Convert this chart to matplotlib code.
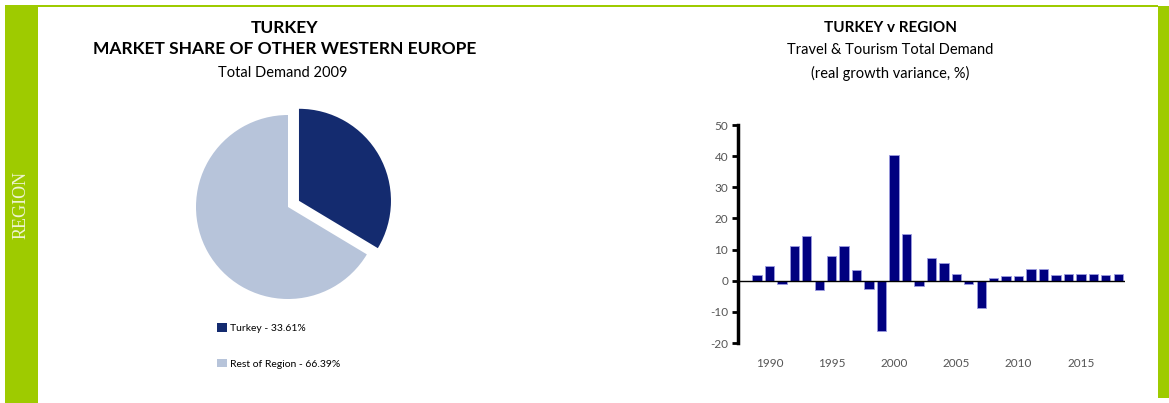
import matplotlib
matplotlib.use("Agg")
import matplotlib.pyplot as plt
from matplotlib.patches import Rectangle, Patch

plt.rcParams["axes.unicode_minus"] = False

# ---- data ----
share_labels = ["Turkey", "Rest of Region"]
share_values = [33.61, 66.39]
share_colors = ["#142b6f", "#b7c4da"]

years = list(range(1989, 2019))
growth_variance = [1.9, 4.7, -1.1, 11.2, 14.3, -2.9, 8.0, 11.2, 3.4, -2.7,
                   -16.2, 40.3, 14.9, -1.7, 7.4, 5.7, 2.0, -1.1, -8.7, 0.9,
                   1.6, 1.6, 3.7, 3.7, 1.9, 2.2, 2.2, 2.1, 1.9, 2.1]
year_ticks = [1990, 1995, 2000, 2005, 2010, 2015]
y_ticks = [-20, -10, 0, 10, 20, 30, 40, 50]

W, H = 1169, 403
GREEN = "#9ecb00"
SANS = ["Lato", "DejaVu Sans"]

fig = plt.figure(figsize=(W / 100, H / 100), dpi=100)
fig.patch.set_facecolor("white")


def px_rect(x0, y0, x1, y1):
    """Figure-fraction [left, bottom, width, height] from pixel box (top-left origin)."""
    return [x0 / W, 1 - y1 / H, (x1 - x0) / W, (y1 - y0) / H]


def add_band(x0, y0, x1, y1):
    l, b, w, h = px_rect(x0, y0, x1, y1)
    fig.add_artist(Rectangle((l, b), w, h, transform=fig.transFigure,
                             facecolor=GREEN, edgecolor="none", zorder=0))


# page frame
add_band(5, 5, 38, 403)
add_band(5, 5, 1158, 7)
add_band(1158, 5.5, 1169, 398)
fig.text(21 / W, 1 - 205 / H, "REGION", rotation=90, ha="center", va="center",
         color="#eef4d0", fontsize=13, family=["Liberation Serif", "DejaVu Serif"])

# ---- pie ----
r_px = 92
cx, cy = 288, 207
pw, ph = 150, 125
ax_pie = fig.add_axes(px_rect(cx - pw, cy - ph, cx + pw, cy + ph))
wedges, _ = ax_pie.pie(share_values, colors=share_colors, startangle=90,
                       counterclock=False, explode=[0.137, 0],
                       wedgeprops=dict(linewidth=0))
ax_pie.set_xlim(-pw / r_px, pw / r_px)
ax_pie.set_ylim(-ph / r_px, ph / r_px)
ax_pie.set_aspect("equal")
ax_pie.axis("off")

handles = [Patch(facecolor=c, edgecolor="none") for c in share_colors]
legend_labels = [f"{n} - {v:.2f}%" for n, v in zip(share_labels, share_values)]
fig.legend(handles, legend_labels, loc="upper left",
           bbox_to_anchor=(208 / W, 1 - 314 / H), frameon=False,
           prop=dict(family=SANS, size=7.5), handlelength=0.9, handleheight=0.9,
           handletextpad=0.3, labelspacing=2.45)

fig.text(285 / W, 1 - 28 / H, "TURKEY", ha="center", va="center",
         fontsize=12.5, fontweight="bold", family=SANS)
fig.text(285 / W, 1 - 49 / H, "MARKET SHARE OF OTHER WESTERN EUROPE", ha="center",
         va="center", fontsize=12.5, fontweight="bold", family=SANS)
fig.text(283 / W, 1 - 73 / H, "Total Demand 2009", ha="center", va="center",
         fontsize=10.5, family=SANS)

# ---- bar chart ----
ax = fig.add_axes(px_rect(738, 125, 1125, 343))
ax.bar(years, growth_variance, width=0.75, color="#000080",
       edgecolor="#9b9be0", linewidth=0.6, zorder=2)
ax.axhline(0, color="black", linewidth=1.0, zorder=3)
ax.set_ylim(-20, 50)
ax.set_xlim(1987.48, 2018.54)
ax.set_yticks(y_ticks)
ax.set_xticks(year_ticks)
for s in ["top", "right", "bottom"]:
    ax.spines[s].set_visible(False)
ax.spines["left"].set_linewidth(2.5)
ax.tick_params(axis="y", direction="out", length=4, width=2, pad=3,
               labelsize=8.5, labelcolor="#555555")
ax.tick_params(axis="x", length=0, pad=11, labelsize=8.5, labelcolor="#555555")
for lab in ax.get_xticklabels() + ax.get_yticklabels():
    lab.set_family(SANS)

fig.text(890 / W, 1 - 28 / H, "TURKEY v REGION", ha="center", va="center",
         fontsize=11, fontweight="bold", family=SANS)
fig.text(890 / W, 1 - 50 / H, "Travel & Tourism Total Demand", ha="center",
         va="center", fontsize=10.5, family=SANS)
fig.text(890 / W, 1 - 73 / H, "(real growth variance, %)", ha="center",
         va="center", fontsize=10.5, family=SANS)

fig.savefig("out.png", dpi=100, facecolor="white")
